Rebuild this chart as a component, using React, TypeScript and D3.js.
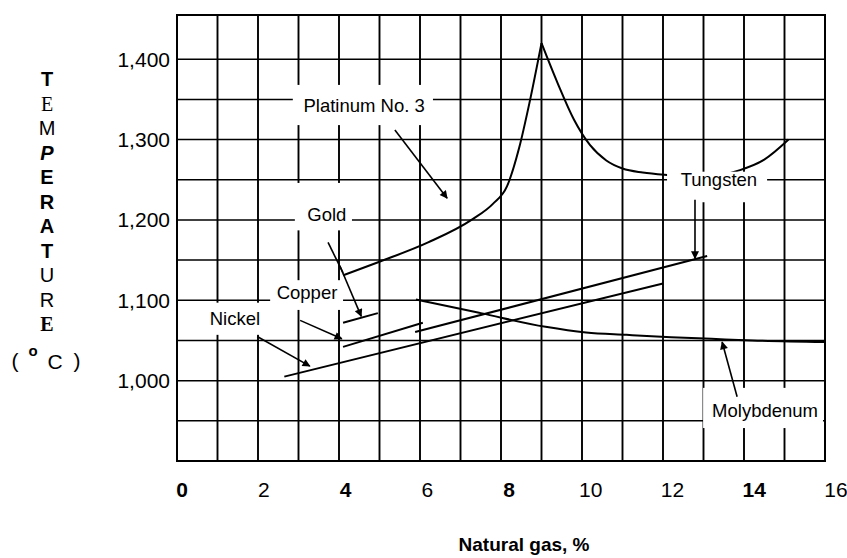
import React from 'react';
import * as d3 from 'd3';

// axis values
const xTicks = [0, 2, 4, 6, 8, 10, 12, 14, 16];
const boldXTicks = [0, 4, 8, 14];
const yTicks = [1000, 1100, 1200, 1300, 1400];
const yTickLabels = ['1,000', '1,100', '1,200', '1,300', '1,400'];
const xGrid = [1, 2, 3, 4, 5, 6, 7, 8, 9, 10, 11, 12, 13, 14, 15];
const yGrid = [950, 1000, 1050, 1100, 1150, 1200, 1250, 1300, 1350, 1400];

// Platinum No. 3 / Tungsten curve (rising and falling side of the peak)
const platRiseX = [4.1, 5.0, 6.2, 7.3, 7.8, 8.15, 8.45, 8.7, 9.0];
const platRiseY = [1131, 1148, 1172, 1201, 1220, 1242, 1290, 1345, 1420];
const platFallX = [9.0, 9.4, 9.8, 10.2, 10.6, 11.0, 11.5, 12.1, 13.0, 13.9, 14.5, 15.1];
const platFallY = [1420, 1370, 1325, 1293, 1274, 1264, 1259, 1256, 1254, 1262, 1275, 1300];

// Molybdenum
const molyX = [5.9, 7.5, 9.1, 10.1, 11.1, 12.2, 13.2, 14.2, 16.0];
const molyY = [1101, 1084, 1067, 1060, 1057, 1054, 1052, 1050, 1048];

// straight lines
const nickelX = [2.65, 12.0];
const nickelY = [1005, 1121];
const copperX = [4.1, 4.96];
const copperY = [1072, 1084];
const copperLowX = [4.1, 6.07];
const copperLowY = [1042, 1072];
const tungstenX = [5.88, 13.09];
const tungstenY = [1060.5, 1155];

// labels: text, centre (data units), box [x0, x1, yTop, yBottom]
const labelNames = ['Platinum No. 3', 'Gold', 'Copper', 'Nickel', 'Tungsten', 'Molybdenum'];
const labelAt = [[4.62, 1343], [3.7, 1207], [3.21, 1110], [1.43, 1078], [13.38, 1250], [14.52, 963]];
const labelBox = [
  [2.86, 6.32, 1368, 1318],
  [2.91, 4.32, 1246, 1187],
  [2.3, 4.1, 1125, 1088],
  [0.57, 2.17, 1097, 1057],
  [12.1, 14.57, 1260, 1222],
  [12.99, 15.95, 991, 941],
];

// arrows: [x0, y0, x1, y1, head]
const arrows = [
  [5.38, 1312, 6.67, 1227, 1],
  [3.73, 1172, 4.1, 1134, 0],
  [4.02, 1143, 4.55, 1080, 1],
  [3.04, 1075, 4.07, 1052, 1],
  [1.98, 1055, 3.28, 1018, 1],
  [12.79, 1225, 12.79, 1152, 1],
  [13.83, 980, 13.46, 1048, 1],
];

const titleLetters = ['T', 'E', 'M', 'P', 'E', 'R', 'A', 'T', 'U', 'R', 'E'];

const W = 847;
const H = 558;
const sans = '"Liberation Sans", Arial, sans-serif';
const serif = '"Liberation Serif", "Times New Roman", serif';

const letterStyle = [
  { fontFamily: sans, fontWeight: 700 },
  { fontFamily: serif, fontWeight: 400 },
  { fontFamily: sans, fontWeight: 400 },
  { fontFamily: sans, fontWeight: 700, fontStyle: 'italic' },
  { fontFamily: sans, fontWeight: 700 },
  { fontFamily: sans, fontWeight: 700 },
  { fontFamily: sans, fontWeight: 700 },
  { fontFamily: sans, fontWeight: 700 },
  { fontFamily: sans, fontWeight: 400 },
  { fontFamily: sans, fontWeight: 400 },
  { fontFamily: serif, fontWeight: 700 },
];

export default function App() {
  const x = d3.scaleLinear().domain([0, 16]).range([177, 825]);
  const xLab = d3.scaleLinear().domain([0, 16]).range([182, 836]);
  const y = d3.scaleLinear().domain([900, 1455]).range([461, 15]);

  const line = d3
    .line<[number, number]>()
    .x((d) => x(d[0]))
    .y((d) => y(d[1]))
    .curve(d3.curveMonotoneX);
  const pts = (xs: number[], ys: number[]) => xs.map((v, i) => [v, ys[i]] as [number, number]);

  const series = [
    pts(platRiseX, platRiseY),
    pts(platFallX, platFallY),
    pts(molyX, molyY),
    pts(nickelX, nickelY),
    pts(copperX, copperY),
    pts(copperLowX, copperLowY),
    pts(tungstenX, tungstenY),
  ];

  return (
    <svg width={W} height={H} style={{ position: 'absolute', left: 0, top: 0, background: '#fff' }}>
      <defs>
        <marker
          id="ah"
          viewBox="0 0 10 10"
          refX="9"
          refY="5"
          markerWidth="11"
          markerHeight="8"
          markerUnits="userSpaceOnUse"
          orient="auto"
        >
          <path d="M0,0 L10,5 L0,10 z" fill="#000" />
        </marker>
      </defs>
      <rect width={W} height={H} fill="#fff" />

      {/* grid */}
      {xGrid.map((v) => (
        <line key={'vx' + v} x1={x(v)} x2={x(v)} y1={y(900)} y2={y(1455)} stroke="#000" strokeWidth={1.9} />
      ))}
      {yGrid.map((v) => (
        <line key={'hy' + v} x1={x(0)} x2={x(16)} y1={y(v)} y2={y(v)} stroke="#000" strokeWidth={1.5} />
      ))}
      <rect
        x={x(0)}
        y={y(1455)}
        width={x(16) - x(0)}
        height={y(900) - y(1455)}
        fill="none"
        stroke="#000"
        strokeWidth={2}
      />

      {/* curves */}
      {series.map((s, i) => (
        <path key={'s' + i} d={line(s) || ''} fill="none" stroke="#000" strokeWidth={2} />
      ))}

      {/* label boxes */}
      {labelBox.map((b, i) => (
        <rect
          key={'b' + i}
          x={x(b[0])}
          y={y(b[2])}
          width={x(b[1]) - x(b[0])}
          height={y(b[3]) - y(b[2])}
          fill="#fff"
        />
      ))}
      {labelNames.map((t, i) => (
        <text
          key={'l' + i}
          x={x(labelAt[i][0])}
          y={y(labelAt[i][1])}
          dy="0.36em"
          textAnchor="middle"
          fontFamily={sans}
          fontSize={18.5}
          fill="#000"
        >
          {t}
        </text>
      ))}

      {/* arrows */}
      {arrows.map((a, i) => (
        <line
          key={'a' + i}
          x1={x(a[0])}
          y1={y(a[1])}
          x2={x(a[2])}
          y2={y(a[3])}
          stroke="#000"
          strokeWidth={1.6}
          markerEnd={a[4] ? 'url(#ah)' : undefined}
        />
      ))}

      {/* y tick labels */}
      {yTicks.map((v, i) => (
        <text
          key={'yt' + v}
          x={170}
          y={y(v)}
          dy="0.36em"
          textAnchor="end"
          fontFamily={sans}
          fontSize={21}
          fill="#000"
        >
          {yTickLabels[i]}
        </text>
      ))}

      {/* x tick labels */}
      {xTicks.map((v) => (
        <text
          key={'xt' + v}
          x={xLab(v)}
          y={497}
          textAnchor="middle"
          fontFamily={sans}
          fontSize={21}
          fontWeight={boldXTicks.includes(v) ? 700 : 400}
          fill="#000"
        >
          {v}
        </text>
      ))}

      {/* axis titles */}
      <text x={524} y={551} textAnchor="middle" fontFamily={sans} fontSize={19} fontWeight={700} fill="#000">
        Natural gas, %
      </text>
      {titleLetters.map((c, i) => (
        <text
          key={'tl' + i}
          x={47}
          y={79 + i * 24.5}
          dy="0.36em"
          textAnchor="middle"
          fontSize={20}
          fill="#000"
          style={letterStyle[i]}
        >
          {c}
        </text>
      ))}
      <g fontFamily={sans} fill="#000">
        <text x={15} y={360} dy="0.36em" textAnchor="middle" fontSize={21}>(</text>
        <text x={33} y={351} dy="0.36em" textAnchor="middle" fontSize={15} fontWeight={700}>o</text>
        <text x={55} y={361} dy="0.36em" textAnchor="middle" fontSize={21}>C</text>
        <text x={77} y={360} dy="0.36em" textAnchor="middle" fontSize={21}>)</text>
      </g>
    </svg>
  );
}
